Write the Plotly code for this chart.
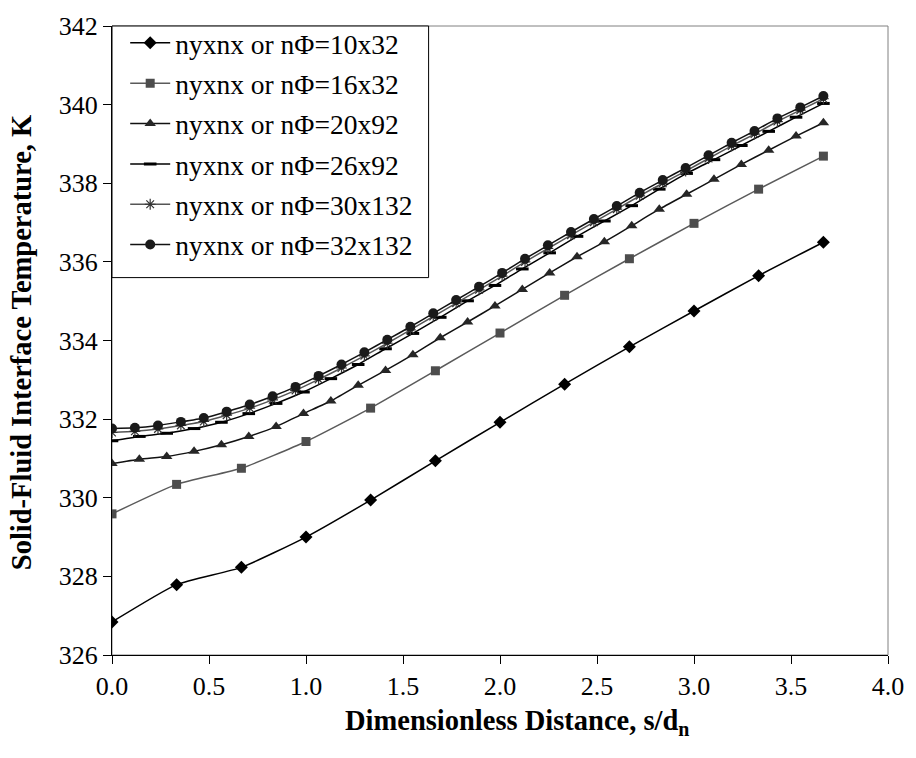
import plotly.graph_objects as go

# ---- data ----
names = ["nyxnx or nΦ=10x32", "nyxnx or nΦ=16x32", "nyxnx or nΦ=20x92",
         "nyxnx or nΦ=26x92", "nyxnx or nΦ=30x132", "nyxnx or nΦ=32x132"]

x_12 = [0.000, 0.333, 0.667, 1.000, 1.333, 1.667, 2.000, 2.333, 2.667, 3.000, 3.333, 3.667]
x_27 = [0.000, 0.141, 0.282, 0.423, 0.564, 0.705, 0.846, 0.987, 1.128, 1.269, 1.410, 1.551,
        1.692, 1.833, 1.974, 2.115, 2.256, 2.397, 2.538, 2.679, 2.821, 2.962, 3.103, 3.244,
        3.385, 3.526, 3.667]
x_32 = [0.000, 0.118, 0.237, 0.355, 0.473, 0.591, 0.710, 0.828, 0.946, 1.065, 1.183, 1.301,
        1.419, 1.538, 1.656, 1.774, 1.892, 2.011, 2.129, 2.247, 2.366, 2.484, 2.602, 2.720,
        2.839, 2.957, 3.075, 3.194, 3.312, 3.430, 3.548, 3.667]

t_10x32 = [326.84, 327.79, 328.23, 329.00, 329.94, 330.94, 331.92, 332.89, 333.84, 334.75, 335.65, 336.50]
t_16x32 = [329.59, 330.34, 330.75, 331.43, 332.28, 333.23, 334.19, 335.15, 336.08, 336.98, 337.85, 338.69]
t_20x92 = [330.87, 330.98, 331.05, 331.18, 331.35, 331.56, 331.81, 332.14, 332.46, 332.86, 333.24, 333.64,
           334.07, 334.47, 334.88, 335.30, 335.72, 336.13, 336.51, 336.92, 337.34, 337.72, 338.10, 338.48,
           338.84, 339.20, 339.54]
t_26x92 = [331.45, 331.56, 331.64, 331.76, 331.92, 332.14, 332.40, 332.69, 333.03, 333.39, 333.79, 334.18,
           334.59, 335.01, 335.40, 335.82, 336.23, 336.65, 337.04, 337.43, 337.85, 338.25, 338.60, 338.96,
           339.32, 339.68, 340.03]
t_30x132 = [331.66, 331.69, 331.75, 331.84, 331.94, 332.10, 332.28, 332.49, 332.73, 333.01, 333.30, 333.61,
            333.93, 334.27, 334.61, 334.95, 335.29, 335.64, 336.00, 336.34, 336.68, 337.01, 337.34, 337.68,
            338.00, 338.31, 338.63, 338.95, 339.25, 339.57, 339.86, 340.15]
t_32x132 = [331.76, 331.78, 331.84, 331.93, 332.03, 332.19, 332.37, 332.58, 332.82, 333.10, 333.39, 333.70,
            334.02, 334.35, 334.69, 335.03, 335.37, 335.72, 336.08, 336.42, 336.76, 337.09, 337.42, 337.76,
            338.08, 338.39, 338.71, 339.03, 339.33, 339.65, 339.93, 340.22]

x_ticks = [0.0, 0.5, 1.0, 1.5, 2.0, 2.5, 3.0, 3.5, 4.0]
y_ticks = [326, 328, 330, 332, 334, 336, 338, 340, 342]

x_title = "<b>Dimensionless Distance, s/d<sub>n</sub></b>"
y_title = "<b>Solid-Fluid Interface Temperature, K</b>"

# ---- styling ----
series = [
    (x_12, t_10x32, dict(symbol="diamond", size=10, color="#000000"), "#000000"),
    (x_12, t_16x32, dict(symbol="square", size=9, color="#4d4d4d"), "#5a5a5a"),
    (x_27, t_20x92, dict(symbol="triangle-up", size=10, color="#262626"), "#111111"),
    (x_27, t_26x92, dict(symbol="line-ew", size=9, color="#000000", line=dict(width=3, color="#000000")), "#000000"),
    (x_32, t_30x132, dict(symbol="asterisk-open", size=9, color="#333333", line=dict(width=1.2, color="#333333")), "#555555"),
    (x_32, t_32x132, dict(symbol="circle", size=10, color="#1a1a1a"), "#111111"),
]

FONT = "Liberation Serif"

fig = go.Figure()
for i, (xs, ys, mk, lc) in enumerate(series):
    fig.add_trace(go.Scatter(
        x=xs, y=ys, name=names[i], mode="lines+markers",
        line=dict(color=lc, width=1.5, shape="spline", smoothing=0.5),
        marker=mk, legendgroup=f"g{i}",
    ))

fig.update_layout(
    width=916, height=758,
    margin=dict(l=112, r=20, t=20, b=103),
    paper_bgcolor="white", plot_bgcolor="white",
    font=dict(family=FONT, size=26, color="black"),
    showlegend=True,
    legend=dict(x=0.017, y=1.012, xanchor="left", yanchor="top",
                bgcolor="rgba(0,0,0,0)", borderwidth=0,
                font=dict(family=FONT, size=27.5, color="black"),
                tracegroupgap=1.6, itemwidth=40),
    shapes=[
        dict(type="rect", xref="paper", yref="paper", x0=0, y0=0, x1=1, y1=1,
             line=dict(color="#808080", width=1), layer="below"),
        dict(type="rect", xref="paper", yref="paper", x0=0, y0=0.600, x1=0.408, y1=1,
             line=dict(color="black", width=1), fillcolor="white", layer="below"),
    ],
    annotations=[
        dict(text=x_title, xref="paper", yref="paper", x=0.5217, y=-0.107,
             xanchor="center", yanchor="middle", showarrow=False,
             font=dict(family=FONT, size=28.5, color="black")),
        dict(text=y_title, xref="paper", yref="paper", x=-0.117, y=0.496,
             xanchor="center", yanchor="middle", showarrow=False, textangle=-90,
             font=dict(family=FONT, size=28.5, color="black")),
    ],
)

fig.update_xaxes(
    range=[0, 4], tickvals=x_ticks, ticktext=[f"{v:.1f}" for v in x_ticks],
    showgrid=False, zeroline=False, showline=True, linecolor="black", linewidth=1,
    ticks="outside", ticklen=8, tickcolor="black",
    tickfont=dict(family=FONT, size=26),
)
fig.update_yaxes(
    range=[326, 342], tickvals=y_ticks, ticktext=[str(v) for v in y_ticks],
    showgrid=False, zeroline=False, showline=True, linecolor="black", linewidth=1,
    ticks="outside", ticklen=8, tickcolor="black",
    tickfont=dict(family=FONT, size=26),
)

fig.write_html("out.html")
